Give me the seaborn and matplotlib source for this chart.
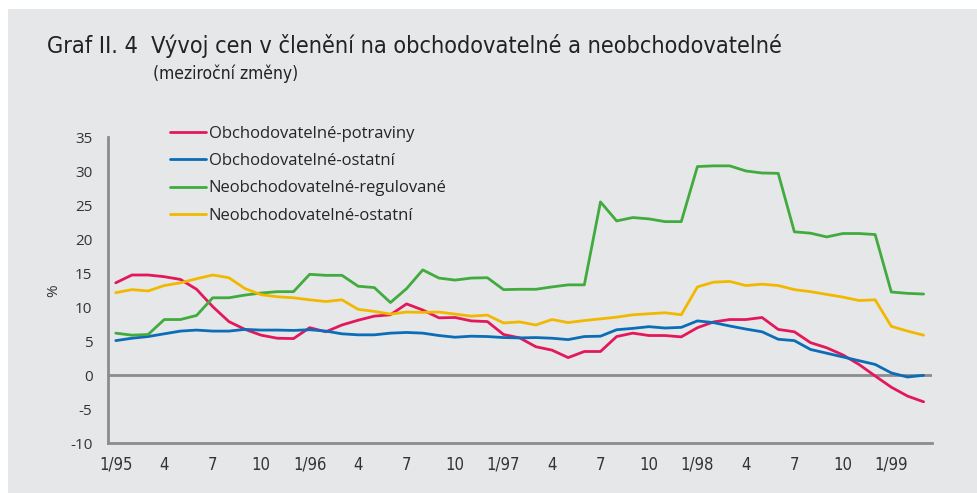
import pandas as pd
import seaborn as sns
import matplotlib.pyplot as plt
from matplotlib.patches import Rectangle
from matplotlib import font_manager

# mesicni data 1/95 - 3/99, mezirocni zmeny v %
months = list(range(51))
tick_labels = ['1/95', '4', '7', '10', '1/96', '4', '7', '10', '1/97', '4', '7', '10',
               '1/98', '4', '7', '10', '1/99']

potraviny = [13.6, 14.75, 14.75, 14.5, 14.1, 12.65, 10.1, 7.9, 6.75, 5.9, 5.45, 5.4, 7.0,
             6.4, 7.4, 8.1, 8.7, 8.9, 10.5, 9.6, 8.45, 8.5, 8.0, 7.9, 6.0, 5.5,
             4.2, 3.7, 2.6, 3.5, 3.5, 5.7, 6.2, 5.85, 5.85, 5.65, 7.0, 7.85,
             8.2, 8.2, 8.5, 6.75, 6.4, 4.8, 4.05, 3.0, 1.6, -0.1, -1.75, -3.05, -3.9]
obch_ostatni = [5.1, 5.45, 5.7, 6.1, 6.5, 6.65, 6.5, 6.5, 6.75, 6.65, 6.65, 6.6, 6.7,
                6.5, 6.1, 5.95, 5.95, 6.2, 6.3, 6.2, 5.85, 5.6, 5.75, 5.7, 5.55, 5.5,
                5.55, 5.45, 5.25, 5.7, 5.75, 6.7, 6.9, 7.15, 6.95, 7.05, 8.0, 7.75,
                7.25, 6.8, 6.4, 5.3, 5.1, 3.8, 3.25, 2.7, 2.15, 1.6, 0.35, -0.25, 0.0]
regulovane = [6.2, 5.9, 6.0, 8.2, 8.2, 8.8, 11.4, 11.4, 11.8, 12.1, 12.3, 12.3, 14.85,
              14.7, 14.7, 13.1, 12.9, 10.7, 12.75, 15.5, 14.3, 14.0, 14.3, 14.35, 12.6, 12.65,
              12.65, 13.0, 13.3, 13.3, 25.5, 22.7, 23.2, 23.0, 22.6, 22.6, 30.7, 30.8,
              30.8, 30.05, 29.75, 29.7, 21.1, 20.9, 20.35, 20.85, 20.85, 20.7, 12.25, 12.05, 11.95]
neobch_ostatni = [12.15, 12.6, 12.4, 13.2, 13.6, 14.2, 14.75, 14.35, 12.75, 11.85, 11.55, 11.4, 11.1,
                  10.85, 11.1, 9.7, 9.4, 9.0, 9.3, 9.25, 9.3, 9.0, 8.7, 8.85, 7.7, 7.85,
                  7.4, 8.2, 7.75, 8.05, 8.3, 8.55, 8.9, 9.05, 9.2, 8.9, 13.0, 13.7,
                  13.8, 13.2, 13.4, 13.2, 12.6, 12.3, 11.9, 11.5, 11.0, 11.1, 7.2, 6.5, 5.9]

series = ['Obchodovatelné-potraviny', 'Obchodovatelné-ostatní',
          'Neobchodovatelné-regulované', 'Neobchodovatelné-ostatní']
colors = ['#e2185b', '#0b6db7', '#41ab3e', '#f2b800']

df = pd.DataFrame({'mesic': months, series[0]: potraviny, series[1]: obch_ostatni,
                   series[2]: regulovane, series[3]: neobch_ostatni})
df = df.melt(id_vars='mesic', var_name='rada', value_name='hodnota')

sns.set_style('white')
plt.rcParams['font.family'] = ['Open Sans', 'DejaVu Sans']
bg = '#e6e7e8'
gray = '#8c8c8c'

# uzsi pismo pro nadpis a popisky osy x
narrow = font_manager.FontProperties(family='DejaVu Sans', stretch='condensed')

fig = plt.figure(figsize=(9.78, 4.93), dpi=100)
fig.patch.set_facecolor('white')
fig.patches.append(Rectangle((8 / 978, 0), 1, 1 - 9 / 493, transform=fig.transFigure,
                             facecolor=bg, edgecolor='none', zorder=-10))
ax = fig.add_axes([107.7 / 978, 49.7 / 493, 824 / 978, 306 / 493])
ax.set_facecolor(bg)

ax.axhline(0, color=gray, lw=2, zorder=1)
sns.lineplot(data=df, x='mesic', y='hodnota', hue='rada', hue_order=series,
             palette=colors, linewidth=2.0, legend=False, ax=ax, zorder=3)

ax.set_xlim(-0.5, 50.5)
ax.set_ylim(-10, 35)
ax.set_yticks(range(-10, 36, 5))
ax.set_yticklabels([str(v) for v in range(-10, 36, 5)], fontsize=11, color='#333333')
ax.set_xticks([m - 0.5 for m in range(52)])
ax.set_xticklabels([])
ax.set_xticks(range(0, 49, 3), minor=True)
ax.set_xticklabels(tick_labels, minor=True, color='#333333')
for t in ax.get_xticklabels(minor=True):
    t.set_fontproperties(narrow)
    t.set_fontsize(12)
ax.tick_params(axis='x', which='major', length=4, width=1.5, color=gray, direction='out')
ax.tick_params(axis='x', which='minor', length=0, pad=9)
ax.tick_params(axis='y', length=5, width=1.5, color=gray, direction='out', pad=6)

for s in ['top', 'right']:
    ax.spines[s].set_visible(False)
for s in ['left', 'bottom']:
    ax.spines[s].set_color(gray)
    ax.spines[s].set_linewidth(2)

ax.set_xlabel('')
ax.set_ylabel('%', fontsize=11, color='#333333', labelpad=6)

# legenda
handles = [plt.Line2D([], [], color=c, lw=2) for c in colors]
fig.legend(handles, series, loc='upper left', bbox_to_anchor=(163 / 978, 1 - 119 / 493),
           frameon=False, fontsize=12, handlelength=2.2, handletextpad=0.15,
           labelspacing=0.68, borderaxespad=0)

t1 = fig.text(47 / 978, 1 - 46 / 493,
              'Graf II. 4  Vývoj cen v členění na obchodovatelné a neobchodovatelné',
              color='#222222', va='center', fontproperties=narrow)
t1.set_fontsize(16.8)
t2 = fig.text(153 / 978, 1 - 74 / 493, '(meziroční změny)', color='#222222', va='center',
              fontproperties=narrow)
t2.set_fontsize(12.5)

fig.savefig('out.png', dpi=100)
